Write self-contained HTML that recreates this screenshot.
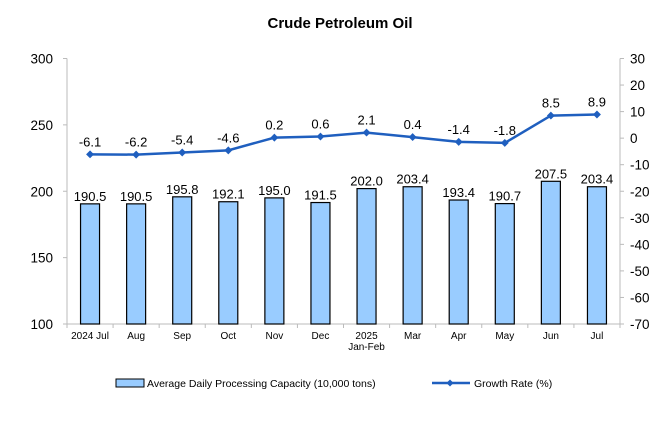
<!DOCTYPE html>
<html><head><meta charset="utf-8"><style>
body{margin:0;background:#fff}
svg text{font-family:"Liberation Sans",Arial,sans-serif;fill:#000}
</style></head><body>
<svg id="chart" width="660" height="440" xmlns="http://www.w3.org/2000/svg">
<text x="340" y="28" text-anchor="middle" font-size="15" font-weight="bold">Crude Petroleum Oil</text>
<g id="axes"></g><g id="bars"></g><g id="line"></g>
<g>
<rect x="116" y="379" width="28" height="8" fill="#99ccff" stroke="#000" stroke-width="1"/>
<text x="147" y="387" font-size="10.5">Average Daily Processing Capacity (10,000 tons)</text>
<line x1="432" y1="383" x2="470" y2="383" stroke="#1f5fbf" stroke-width="2.5"/>
<rect x="447.5" y="380.5" width="5" height="5" fill="#1f5fbf" transform="rotate(45 450 383)"/>
<text x="474" y="387" font-size="10.5">Growth Rate (%)</text>
</g>
</svg>
<script>
const categories=["2024 Jul","Aug","Sep","Oct","Nov","Dec","2025|Jan-Feb","Mar","Apr","May","Jun","Jul"];
const capacity=[190.5,190.5,195.8,192.1,195.0,191.5,202.0,203.4,193.4,190.7,207.5,203.4];
const growth=[-6.1,-6.2,-5.4,-4.6,0.2,0.6,2.1,0.4,-1.4,-1.8,8.5,8.9];
const leftTicks=[100,150,200,250,300];
const rightTicks=[30,20,10,0,-10,-20,-30,-40,-50,-60,-70];
const NS="http://www.w3.org/2000/svg";
const X0=67,X1=620,Y0=58.5,Y1=324;
const bw=(X1-X0)/categories.length;
const yL=v=>Y1-(v-100)/200*(Y1-Y0);
const yR=v=>Y1-(v+70)/100*(Y1-Y0);
const xc=i=>X0+bw*(i+0.5);
function mk(t,a,p){const e=document.createElementNS(NS,t);for(const k in a)e.setAttribute(k,a[k]);p.appendChild(e);return e;}
const ax=document.getElementById('axes'),bg=document.getElementById('bars'),lg=document.getElementById('line');
let e=mk('line',{x1:X0,y1:Y0,x2:X0,y2:Y1,stroke:'#bbb'},ax);

e=mk('line',{x1:X1,y1:Y0,x2:X1,y2:Y1,stroke:'#bbb'},ax);

e=mk('line',{x1:X0,y1:Y1,x2:X1,y2:Y1,stroke:'#bbb'},ax);

leftTicks.forEach(v=>{mk('line',{x1:X0-4,y1:yL(v),x2:X0,y2:yL(v),stroke:'#bbb'},ax);
const t=mk('text',{x:X0-14,y:yL(v)+5,'text-anchor':'end','font-size':'13.5'},ax);t.textContent=v;
});
rightTicks.forEach(v=>{mk('line',{x1:X1,y1:yR(v),x2:X1+4,y2:yR(v),stroke:'#bbb'},ax);
const t=mk('text',{x:X1+10,y:yR(v)+5,'font-size':'13.5'},ax);t.textContent=v;
});
for(let i=0;i<=categories.length;i++)mk('line',{x1:X0+bw*i,y1:Y1,x2:X0+bw*i,y2:Y1+4,stroke:'#bbb'},ax);
categories.forEach((c,i)=>{c.split('|').forEach((s,j)=>{const t=mk('text',{x:xc(i),y:Y1+15+j*11,'text-anchor':'middle','font-size':'10'},ax);t.textContent=s;
});});
capacity.forEach((v,i)=>{const r=mk('rect',{x:xc(i)-9.5,y:yL(v),width:19,height:Y1-yL(v),fill:'#99ccff',stroke:'#000','stroke-width':1.2},bg);

const t=mk('text',{x:xc(i),y:yL(v)-3,'text-anchor':'middle','font-size':'13'},bg);t.textContent=v.toFixed(1);
});
const pl=mk('polyline',{points:growth.map((v,i)=>xc(i)+','+yR(v)).join(' '),fill:'none',stroke:'#1f5fbf','stroke-width':2.5},lg);

growth.forEach((v,i)=>{const m=mk('rect',{x:xc(i)-2.8,y:yR(v)-2.8,width:5.6,height:5.6,fill:'#1f5fbf',transform:`rotate(45 ${xc(i)} ${yR(v)})`},lg);

const t=mk('text',{x:xc(i),y:yR(v)-8,'text-anchor':'middle','font-size':'13'},lg);t.textContent=v.toFixed(1);
});
</script>
</body></html>
